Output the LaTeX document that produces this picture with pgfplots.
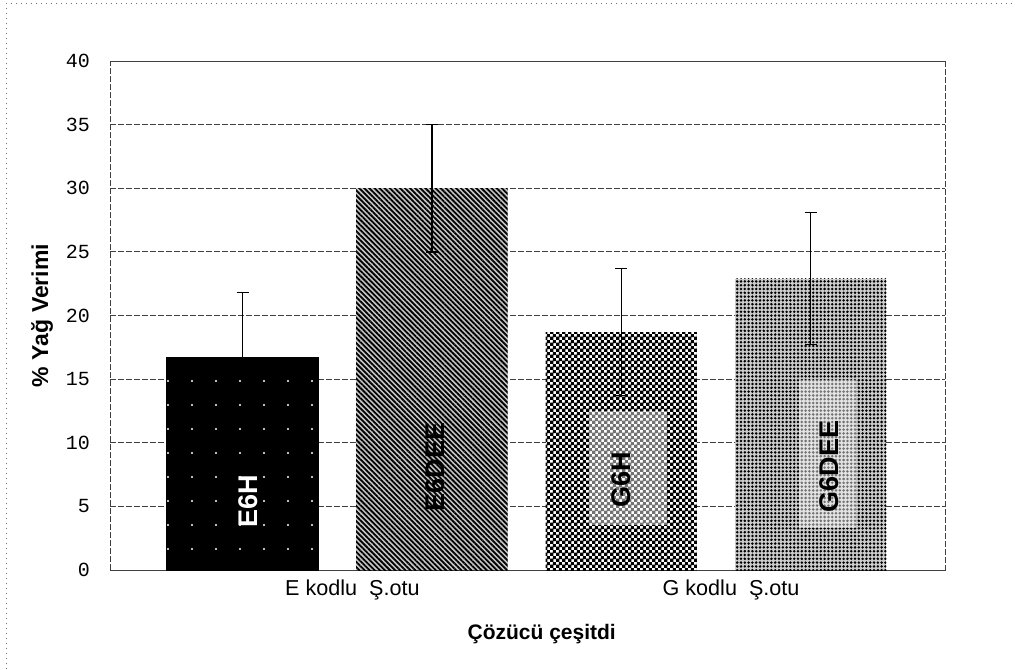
\documentclass[border=0pt]{standalone}
\usepackage{pgfplots}
\pgfplotsset{compat=1.18}
\usepackage{fontspec}
\setmainfont{Liberation Sans}
\newfontfamily\tickfont{Liberation Mono}
\usetikzlibrary{patterns,patterns.meta}
\pgfdeclarepatternformonly{smallchecker}{\pgfpointorigin}{\pgfqpoint{3.2pt}{3.2pt}}{\pgfqpoint{3.2pt}{3.2pt}}{%
  \pgfpathrectangle{\pgfpointorigin}{\pgfqpoint{1.9pt}{1.9pt}}%
  \pgfpathrectangle{\pgfqpoint{1.6pt}{1.6pt}}{\pgfqpoint{1.9pt}{1.9pt}}%
  \pgfusepath{fill}}

\begin{document}
\begin{tikzpicture}[x=1pt,y=1pt]
\path[use as bounding box] (0,0) rectangle (507.5,334.5);
\draw[black!55, dotted, line width=0.5pt] (3,0) -- (3,332.5) -- (507.5,332.5);
\begin{axis}[
  at={(55pt,49.5pt)}, anchor=south west,
  scale only axis, width=417.5pt, height=254.5pt,
  xmin=-0.70, xmax=3.71, ymin=0, ymax=40,
  ytick={0,5,...,40},
  xtick={0.58,2.58}, xticklabels={E kodlu\ \ Ş.otu, G kodlu\ \ Ş.otu},
  major tick length=0pt,
  ymajorgrids,
  grid style={black!75, dash pattern=on 3pt off 1pt, line width=0.45pt},
  axis line style={black!75, dash pattern=on 3pt off 1pt, line width=0.45pt},
  /pgf/number format/assume math mode=true,
  yticklabel style={font=\tickfont\fontsize{10}{12}\selectfont, xshift=-6.5pt},
  xticklabel style={font=\fontsize{10.8}{12}\selectfont, yshift=-1.5pt},
  ylabel={\% Yağ Verimi}, xlabel={Çözücü çeşitdi},
  every axis y label/.style={at={(axis description cs:-0.0814,0.5)}, rotate=90, anchor=center, font=\bfseries\fontsize{11.5}{13}\selectfont},
  every axis x label/.style={at={(axis description cs:0.517,-0.126)}, anchor=center, font=\bfseries\fontsize{10.5}{12}\selectfont},
  error bars/y dir=both, error bars/y explicit,
  error bars/error bar style={black, line width=0.7pt},
  error bars/error mark options={black, rotate=90, mark size=3pt, line width=0.7pt},
]
\addplot[ybar, bar shift=0pt, bar width=0.8, draw=black, fill=black,
  postaction={pattern={Dots[distance=12pt,radius=0.55pt]}, pattern color=white}]
  coordinates {(0,16.7) +- (0,5.1)};
\addplot[ybar, bar shift=0pt, bar width=0.8, draw=none, fill=gray!45,
  postaction={pattern={Lines[angle=-45,distance=1.8pt,line width=0.9pt]}, pattern color=black}]
  coordinates {(1,30.0) +- (0,5.0)};
\addplot[ybar, bar shift=0pt, bar width=0.8, draw=none, fill=white,
  postaction={pattern=smallchecker, pattern color=black}]
  coordinates {(2,18.7) +- (0,5.0)};
\addplot[ybar, bar shift=0pt, bar width=0.8, draw=none, fill=gray!40,
  postaction={pattern={Dots[distance=1.9pt,radius=0.7pt]}, pattern color=black}]
  coordinates {(3,22.9) +- (0,5.2)};
\fill[white, opacity=0.45] (axis cs:1.83,3.55) rectangle (axis cs:2.24,12.5);
\fill[white, opacity=0.45] (axis cs:2.94,3.3) rectangle (axis cs:3.24,14.9);
\node[rotate=90, text=white, font=\bfseries\fontsize{13.5}{15}\selectfont] at (axis cs:0.03,5.4) {E6H};
\node[rotate=90, text=black, font=\bfseries\fontsize{13.5}{15}\selectfont] at (axis cs:1.02,8.1) {E6DEE};
\node[rotate=90, text=black, font=\bfseries\fontsize{13.5}{15}\selectfont] at (axis cs:2.0,7.1) {G6H};
\node[rotate=90, text=black, font=\bfseries\fontsize{13.5}{15}\selectfont] at (axis cs:3.1,8.15) {G6DEE};
\end{axis}
\end{tikzpicture}
\end{document}
